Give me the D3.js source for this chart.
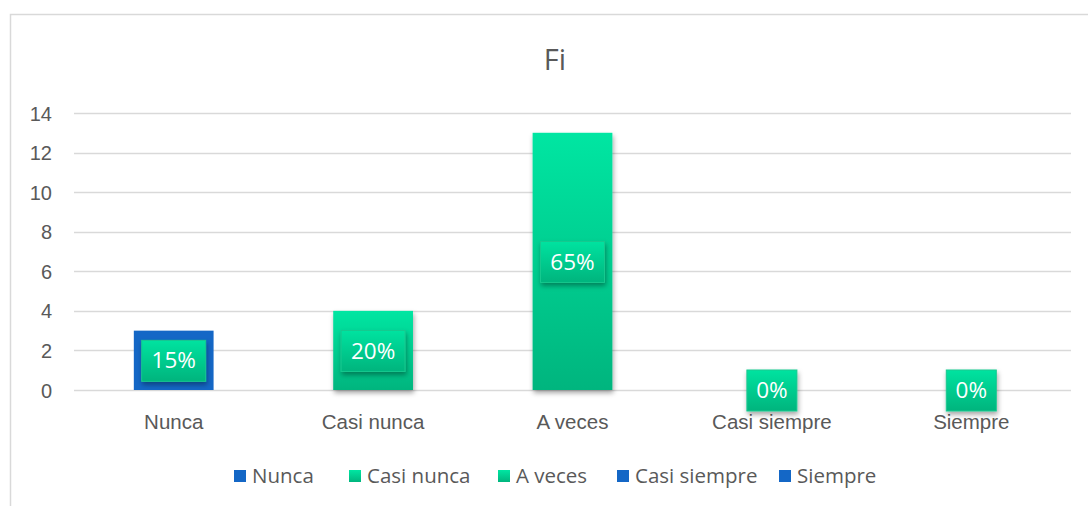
<!DOCTYPE html>
<html>
<head>
<meta charset="utf-8">
<script src="https://cdn.jsdelivr.net/npm/d3@7"></script>
<style>
  body { margin: 0; background: #fff; }
  svg { display: block; font-family: "Open Sans", Lato, sans-serif; }
</style>
</head>
<body>
<svg id="chart" width="1088" height="506"></svg>
<script>
var categories = ['Nunca', 'Casi nunca', 'A veces', 'Casi siempre', 'Siempre'];
var values = [3, 4, 13, 0, 0];
var labels = ['15%', '20%', '65%', '0%', '0%'];
var yTicks = [0, 2, 4, 6, 8, 10, 12, 14];
var barKind = ['blue', 'green', 'green', 'blue', 'blue'];

var svg = d3.select('#chart');
var defs = svg.append('defs');

var g1 = defs.append('linearGradient').attr('id', 'greenGrad')
    .attr('x1', 0).attr('y1', 0).attr('x2', 0).attr('y2', 1);
g1.append('stop').attr('offset', '0%').attr('stop-color', '#00e6a2');
g1.append('stop').attr('offset', '100%').attr('stop-color', '#00b57e');

var g2 = defs.append('linearGradient').attr('id', 'labelGrad')
    .attr('x1', 0).attr('y1', 0).attr('x2', 0).attr('y2', 1);
g2.append('stop').attr('offset', '0%').attr('stop-color', '#00e3a0');
g2.append('stop').attr('offset', '100%').attr('stop-color', '#00b47d');

var shadow = defs.append('filter').attr('id', 'shadow')
    .attr('x', '-30%').attr('y', '-30%').attr('width', '160%').attr('height', '170%');
shadow.append('feDropShadow').attr('dx', 1).attr('dy', 3).attr('stdDeviation', 2.5)
    .attr('flood-color', '#000').attr('flood-opacity', 0.35);

var fillFor = { blue: '#1467c6', green: 'url(#greenGrad)' };

// outer chart frame, runs off the right and bottom edges
svg.append('rect')
    .attr('x', 10.5).attr('y', 14.5)
    .attr('width', 1100).attr('height', 520)
    .attr('fill', '#fff').attr('stroke', '#d9d9d9').attr('stroke-width', 1.5);

var margin = { left: 74, right: 1071, top: 113, bottom: 390 };

var x = d3.scaleBand()
    .domain(categories)
    .range([margin.left, margin.right])
    .paddingInner(0.6).paddingOuter(0.3);

var y = d3.scaleLinear()
    .domain([0, 14])
    .range([margin.bottom, margin.top]);

// gridlines
svg.append('g')
    .selectAll('line')
    .data(yTicks)
    .join('line')
    .attr('x1', margin.left).attr('x2', margin.right)
    .attr('y1', function (d) { return Math.round(y(d)) + 0.5; })
    .attr('y2', function (d) { return Math.round(y(d)) + 0.5; })
    .attr('stroke', '#d9d9d9').attr('stroke-width', 1.3);

// y axis
var yAxis = svg.append('g')
    .attr('transform', 'translate(' + 52 + ',0)')
    .call(d3.axisLeft(y).tickValues(yTicks).tickSize(0).tickPadding(0));
yAxis.select('.domain').remove();
yAxis.selectAll('text')
    .attr('fill', '#595959').style('font-size', '20px')
    .attr('dy', '0.35em');

// x axis
var xAxis = svg.append('g')
    .attr('transform', 'translate(0,' + margin.bottom + ')')
    .call(d3.axisBottom(x).tickSize(0).tickPadding(0));
xAxis.select('.domain').remove();
xAxis.selectAll('text')
    .attr('y', 39).attr('dy', null)
    .attr('fill', '#595959').style('font-size', '20.5px');

// bars
svg.append('g')
    .selectAll('rect')
    .data(values)
    .join('rect')
    .attr('x', function (d, i) { return x(categories[i]); })
    .attr('y', function (d) { return y(d); })
    .attr('width', x.bandwidth())
    .attr('height', function (d) { return y(0) - y(d); })
    .attr('fill', function (d, i) { return fillFor[barKind[i]]; })
    .attr('filter', function (d, i) { return barKind[i] === 'green' && d > 0 ? 'url(#shadow)' : null; });

// data labels
var lab = svg.append('g')
    .selectAll('g')
    .data(values)
    .join('g')
    .attr('transform', function (d, i) {
        var cx = x(categories[i]) + x.bandwidth() / 2;
        var cy = (y(d) + y(0)) / 2;
        return 'translate(' + cx + ',' + cy + ')';
    });

lab.append('rect')
    .attr('x', function (d, i) { return labels[i].length > 2 ? -32 : -25; })
    .attr('width', function (d, i) { return labels[i].length > 2 ? 64 : 50; })
    .attr('y', -20).attr('height', 41)
    .attr('fill', 'url(#labelGrad)')
    .attr('stroke', '#19c98f').attr('stroke-width', 1)
    .attr('filter', 'url(#shadow)');

lab.append('text')
    .attr('text-anchor', 'middle')
    .attr('dy', '0.36em')
    .attr('fill', '#fff')
    .style('font-size', '22.5px')
    .text(function (d, i) { return labels[i]; });

// title
svg.append('text')
    .attr('x', 555).attr('y', 70)
    .attr('text-anchor', 'middle')
    .attr('fill', '#595959')
    .style('font-size', '29px')
    .text('Fi');

// legend
var legendX = [234, 349, 498, 617, 779];
var leg = svg.append('g')
    .selectAll('g')
    .data(categories)
    .join('g')
    .attr('transform', function (d, i) { return 'translate(' + legendX[i] + ',476)'; });

leg.append('rect')
    .attr('x', 0).attr('y', -6).attr('width', 12).attr('height', 12)
    .attr('fill', function (d, i) { return fillFor[barKind[i]]; });

leg.append('text')
    .attr('x', 18).attr('dy', '0.36em')
    .attr('fill', '#595959')
    .style('font-size', '20.5px')
    .text(function (d) { return d; });
</script>
</body>
</html>
